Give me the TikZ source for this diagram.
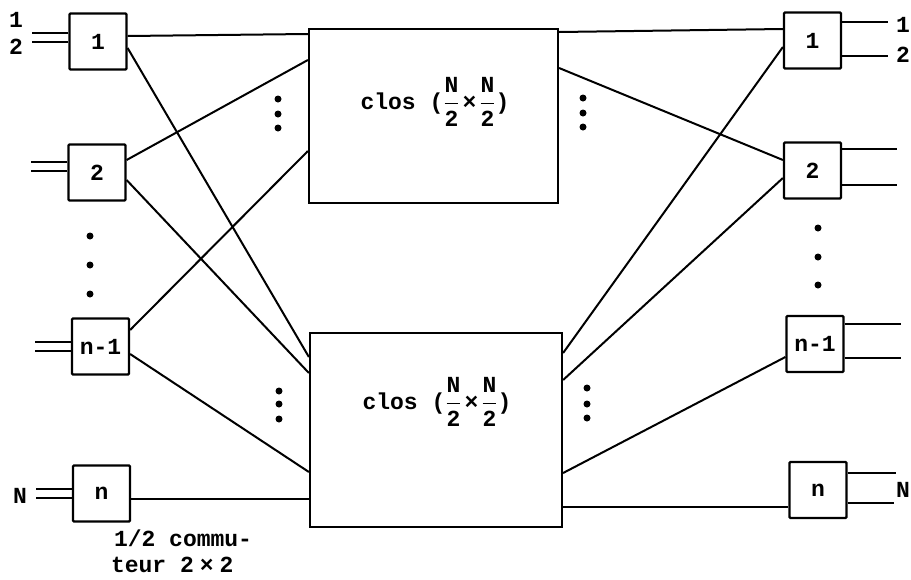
\documentclass[tikz,border=0pt]{standalone}
\usepackage{fontspec}
\usepackage{amsmath}
\usetikzlibrary{calc}
\newfontfamily\tw{Liberation Mono}
\begin{document}
\begin{tikzpicture}[x=1pt,y=-1pt,line width=2pt,
  txt/.style={font=\tw\bfseries\fontsize{23}{26}\selectfont},
  sw/.style={draw,line width=2.2pt,minimum width=57pt,minimum height=56pt,inner sep=0pt,rounded corners=1pt,txt},
  clos/.style={draw,line width=2.2pt,inner sep=0pt},
  lab/.style={inner sep=0pt,txt},
  pt/.style={circle,fill,inner sep=0pt,minimum size=7pt}]
\useasboundingbox (0,0) rectangle (911,579);
% switches
\node[sw] (L1) at (98,41.5) {1};
\node[sw] (L2) at (97,172.5) {2};
\node[sw] (L3) at (100.5,346.5) {n-1};
\node[sw] (L4) at (101.5,493.5) {n};
\node[sw] (R1) at (812.5,40.5) {1};
\node[sw] (R2) at (812.5,170.5) {2};
\node[sw] (R3) at (815,344) {n-1};
\node[sw] (R4) at (818,490) {n};
% clos blocks
\node[clos,minimum width=249pt,minimum height=174pt] (C1) at (433.5,116) {};
\node[clos,minimum width=252pt,minimum height=194pt] (C2) at (436,430) {};
\node[lab] (T1) at (435,102) {clos (\(\dfrac{\mbox{N}}{\mbox{2}}\)\kern3pt×\kern3pt\(\dfrac{\mbox{N}}{\mbox{2}}\))};
\node[lab] (T2) at (437,402) {clos (\(\dfrac{\mbox{N}}{\mbox{2}}\)\kern3pt×\kern3pt\(\dfrac{\mbox{N}}{\mbox{2}}\))};
% left inputs
\foreach \n/\a/\b in {L1/-8.5/0.5, L2/-10.5/-1.5, L3/-4.5/4.5, L4/-4.5/4.5}{
  \draw ($(\n.west)+(0,\a)$) -- ++(-36,0);
  \draw ($(\n.west)+(0,\b)$) -- ++(-36,0);
}
% right outputs
\draw ($(R1.east)+(0,-18.5)$) -- ++(46,0);
\draw ($(R1.east)+(0,15.5)$) -- ++(46,0);
\draw ($(R2.east)+(0,-21.5)$) -- ++(55,0);
\draw ($(R2.east)+(0,14.5)$) -- ++(55,0);
\draw ($(R3.east)+(0,-20)$) -- ++(56,0);
\draw ($(R3.east)+(0,14)$) -- ++(56,0);
\draw ($(R4.east)+(0,-17)$) -- ++(48,0);
\draw ($(R4.east)+(0,13)$) -- ++(46,0);
% input/output labels
\node[lab] (i1) at (16,20) {1};
\node[lab] (i2) at (16,47) {2};
\node[lab] (iN) at (20,496) {N};
\node[lab] (o1) at (903,25) {1};
\node[lab] (o2) at (903,55) {2};
\node[lab,anchor=east] (oN) at (911,490) {N};
% left connectors
\draw ($(L1.east)+(0,-5.5)$) -- ($(C1.west)+(0,-82)$);
\draw ($(L1.east)+(0,6.5)$) -- ($(C2.west)+(0,-73)$);
\draw ($(L2.east)+(0,-12.5)$) -- ($(C1.west)+(0,-56)$);
\draw ($(L2.east)+(0,7.5)$) -- ($(C2.west)+(0,-57)$);
\draw ($(L3.east)+(0,-16.5)$) -- ($(C1.west)+(0,35)$);
\draw ($(L3.east)+(0,7.5)$) -- ($(C2.west)+(0,42)$);
\draw ($(L4.east)+(0,5.5)$) -- ($(C2.west)+(0,69)$);
% right connectors
\draw ($(C1.east)+(0,-84)$) -- ($(R1.west)+(0,-11.5)$);
\draw ($(C1.east)+(0,-48)$) -- ($(R2.west)+(0,-10.5)$);
\draw ($(C2.east)+(0,-77)$) -- ($(R1.west)+(0,6.5)$);
\draw ($(C2.east)+(0,-50)$) -- ($(R2.west)+(0,7.5)$);
\draw ($(C2.east)+(0,43)$) -- ($(R3.west)+(0,13)$);
\draw ($(C2.east)+(0,77)$) -- ($(R4.west)+(0,17)$);
% dots
\foreach \x/\y [count=\i] in {90/236,90/265,90/294, 818/228,818/257,818/285,
  278/99,278/114,278/128, 583/98,583/113,583/127,
  279/391,279/404,279/419, 587/388,587/404,587/418}
  \node[pt] (d\i) at (\x,\y) {};
% caption
\node[lab,anchor=west] (cap1) at (113,538) {1/2 commu-};
\node[lab,anchor=west] (cap2) at (110,565) {teur 2\kern6pt×\kern6pt2};
\end{tikzpicture}
\end{document}
